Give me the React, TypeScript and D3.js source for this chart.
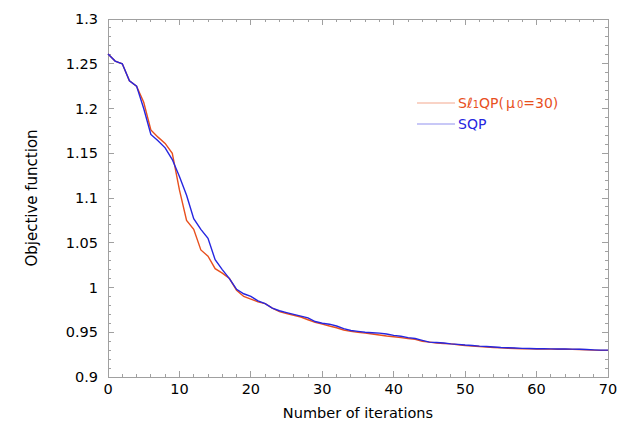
import React, { useRef, useEffect } from 'react'
import * as d3 from 'd3'

// values, one per iteration 0..70
const iterations = d3.range(0, 71)

const sl1qpValues = [
    1.261, 1.253, 1.250, 1.231, 1.225, 1.207, 1.176, 1.168, 1.161, 1.150,
    1.109, 1.075, 1.065, 1.042, 1.035, 1.021, 1.016, 1.010, 0.997, 0.990,
    0.987, 0.984, 0.982, 0.977, 0.973, 0.971, 0.969, 0.967, 0.964, 0.961,
    0.959, 0.957, 0.955, 0.9525, 0.951, 0.950, 0.949, 0.948, 0.947, 0.9458,
    0.945, 0.944, 0.943, 0.942, 0.940, 0.939, 0.938, 0.9375, 0.937, 0.936,
    0.9352, 0.9347, 0.934, 0.9335, 0.933, 0.9326, 0.9322, 0.9318, 0.9316, 0.9314,
    0.9313, 0.9312, 0.9311, 0.931, 0.931, 0.9309, 0.9307, 0.9304, 0.930, 0.9298,
    0.9297,
]

const sqpValues = [
    1.261, 1.253, 1.250, 1.231, 1.225, 1.200, 1.171, 1.164, 1.156, 1.143,
    1.124, 1.103, 1.077, 1.065, 1.055, 1.031, 1.020, 1.010, 0.998, 0.993,
    0.990, 0.985, 0.982, 0.977, 0.974, 0.972, 0.970, 0.968, 0.966, 0.962,
    0.960, 0.959, 0.957, 0.954, 0.952, 0.951, 0.950, 0.9495, 0.949, 0.948,
    0.9465, 0.9455, 0.944, 0.943, 0.941, 0.939, 0.9385, 0.938, 0.937, 0.9365,
    0.9357, 0.9352, 0.9345, 0.934, 0.9335, 0.933, 0.9327, 0.9324, 0.932, 0.9318,
    0.9316, 0.9315, 0.9314, 0.9313, 0.9313, 0.9312, 0.931, 0.9307, 0.9303, 0.930,
    0.930,
]

const xTicks = [0, 10, 20, 30, 40, 50, 60, 70]
const yTicks = [0.9, 0.95, 1, 1.05, 1.1, 1.15, 1.2, 1.25, 1.3]

const width = 622
const height = 423
const margin = { top: 19, right: 14, bottom: 46, left: 108 }
const orange = '#e8501e'
const blue = '#2626e0'
const axisColor = '#a0a0a0'
const font = '"DejaVu Sans", Verdana, sans-serif'

const App = () => {
    const visEl = useRef(null)

    useEffect(() => {
        const svg = d3.select(visEl.current)
        svg.selectAll('*').remove()

        const innerWidth = width - margin.left - margin.right
        const innerHeight = height - margin.top - margin.bottom

        const xScale = d3.scaleLinear().domain([0, 70]).range([0, innerWidth])
        const yScale = d3.scaleLinear().domain([0.9, 1.3]).range([innerHeight, 0])

        const g = svg.append('g')
            .attr('transform', `translate(${margin.left},${margin.top})`)

        // frame
        g.append('rect')
            .attr('width', innerWidth)
            .attr('height', innerHeight)
            .attr('fill', 'none')
            .attr('stroke', axisColor)
            .attr('stroke-width', 1)
            .attr('shape-rendering', 'crispEdges')

        // inward ticks on all four sides
        const xMinor = d3.range(0, 71, 2)
        const yMinor = d3.range(0, 41).map(i => 0.9 + i * 0.01)
        const isMajorX = v => v % 10 === 0
        const isMajorY = v => Math.abs(Math.round(v * 20) - v * 20) < 1e-6

        const ticks = g.append('g')
            .attr('stroke', axisColor)
            .attr('shape-rendering', 'crispEdges')
        xMinor.forEach(v => {
            const len = isMajorX(v) ? 6 : 3
            const x = xScale(v)
            ticks.append('line').attr('x1', x).attr('x2', x)
                .attr('y1', innerHeight).attr('y2', innerHeight - len)
            ticks.append('line').attr('x1', x).attr('x2', x)
                .attr('y1', 0).attr('y2', len)
        })
        yMinor.forEach(v => {
            const len = isMajorY(v) ? 6 : 3
            const y = yScale(v)
            ticks.append('line').attr('y1', y).attr('y2', y)
                .attr('x1', 0).attr('x2', len)
            ticks.append('line').attr('y1', y).attr('y2', y)
                .attr('x1', innerWidth).attr('x2', innerWidth - len)
        })

        // tick labels
        g.append('g').selectAll('text')
            .data(xTicks)
            .join('text')
            .attr('x', d => xScale(d))
            .attr('y', innerHeight + 17)
            .attr('text-anchor', 'middle')
            .attr('font-family', font)
            .attr('font-size', 14.5)
            .attr('fill', '#000')
            .text(d => d)

        g.append('g').selectAll('text')
            .data(yTicks)
            .join('text')
            .attr('x', -10)
            .attr('y', d => yScale(d))
            .attr('dy', '0.35em')
            .attr('text-anchor', 'end')
            .attr('font-family', font)
            .attr('font-size', 14.5)
            .attr('fill', '#000')
            .text(d => d)

        // axis titles
        g.append('text')
            .attr('x', innerWidth / 2)
            .attr('y', innerHeight + 41)
            .attr('text-anchor', 'middle')
            .attr('font-family', font)
            .attr('font-size', 14.5)
            .attr('fill', '#000')
            .text('Number of iterations')

        g.append('text')
            .attr('transform', `translate(${-71},${innerHeight / 2}) rotate(-90)`)
            .attr('text-anchor', 'middle')
            .attr('font-family', font)
            .attr('font-size', 15)
            .attr('fill', '#000')
            .text('Objective function')

        // curves
        const lineGen = values => d3.line()
            .x((d, i) => xScale(iterations[i]))
            .y(d => yScale(d))(values)

        g.append('path')
            .attr('d', lineGen(sl1qpValues))
            .attr('fill', 'none')
            .attr('stroke', orange)
            .attr('stroke-width', 1.4)

        g.append('path')
            .attr('d', lineGen(sqpValues))
            .attr('fill', 'none')
            .attr('stroke', blue)
            .attr('stroke-width', 1.4)

        // legend
        const legend = svg.append('g').attr('font-family', font).attr('font-size', 14)
        legend.append('line')
            .attr('x1', 417).attr('x2', 455).attr('y1', 103).attr('y2', 103)
            .attr('stroke', orange).attr('stroke-opacity', 0.5).attr('stroke-width', 1.2)
        const t1 = legend.append('text')
            .attr('x', 458).attr('y', 103).attr('dy', '0.35em')
            .attr('fill', orange)
        t1.append('tspan').text('S\u2113')
        t1.append('tspan').attr('font-size', 10).text('1')
        t1.append('tspan').text('QP(')
        t1.append('tspan').attr('dx', 2).text('\u03bc')
        t1.append('tspan').attr('dx', 2).attr('font-size', 10).text('0')
        t1.append('tspan').text('=30)')

        legend.append('line')
            .attr('x1', 417).attr('x2', 455).attr('y1', 124).attr('y2', 124)
            .attr('stroke', blue).attr('stroke-opacity', 0.5).attr('stroke-width', 1.2)
        legend.append('text')
            .attr('x', 458).attr('y', 124).attr('dy', '0.35em')
            .attr('fill', blue)
            .text('SQP')
    }, [])

    return (
        <svg
            ref={visEl}
            width={width}
            height={height}
            style={{ position: 'absolute', left: 0, top: 0, background: '#fff' }}
        />
    )
}

export default App
